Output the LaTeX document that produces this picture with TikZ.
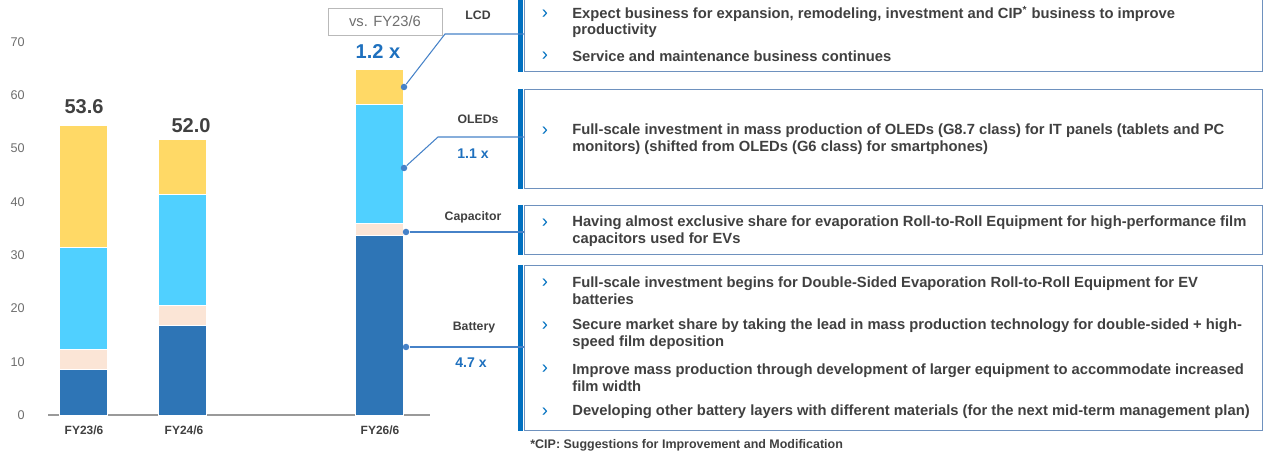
\documentclass[tikz,border=0pt]{standalone}
\usepackage{fontspec}
\setmainfont{Liberation Sans}
\definecolor{battblue}{RGB}{46,117,182}
\definecolor{capbeige}{RGB}{251,229,214}
\definecolor{oledcyan}{RGB}{80,208,255}
\definecolor{lcdyellow}{RGB}{255,217,102}
\definecolor{accentblue}{RGB}{0,112,192}
\definecolor{ratioblue}{RGB}{30,112,190}
\definecolor{linkblue}{RGB}{70,130,200}
\definecolor{framegray}{RGB}{110,145,190}
\definecolor{txtgray}{RGB}{64,64,64}
\definecolor{axisgray}{RGB}{110,110,110}
\begin{document}
\begin{tikzpicture}[x=0.02cm, y=-0.02cm,
    every node/.style={font=\fontsize{8.4}{9.6}\selectfont\bfseries, text=txtgray},
    axislabel/.style={font=\fontsize{7.2}{8}\selectfont, text=axisgray, anchor=east, inner sep=0},
    yearlabel/.style={font=\fontsize{6.8}{8}\selectfont\bfseries, inner sep=0},
    total/.style={font=\fontsize{11.4}{13}\selectfont\bfseries, inner sep=0},
    catlabel/.style={font=\fontsize{7}{8}\selectfont\bfseries, inner sep=0},
    ratio/.style={font=\fontsize{8}{9}\selectfont\bfseries, text=ratioblue, inner sep=0},
    dot/.style={circle, fill=linkblue, inner sep=0, minimum size=0.13cm},
    linkline/.style={draw=linkblue, line width=0.6pt},
    infobox/.style={draw=framegray, line width=0.5pt, anchor=north west, minimum width=14.76cm, inner sep=0},
    accentbar/.style={draw=accentblue, line width=2.3pt},
    itemtext/.style={anchor=west, align=left, inner sep=0},
    bulletmark/.style={font=\fontsize{10.5}{10}\selectfont, text=accentblue, inner sep=0}]
    \useasboundingbox (0,0) rectangle (1264,455);

    % Achse und Skala
    \draw[axisgray!70, line width=0.6pt] (48,415) -- (430,415);
    \foreach \v in {0,10,...,70}
        \node[axislabel] (tick\v) at (25,{415-5.33*\v}) {\v};

    % Gestapelte Balken (Batterie, Kondensator, OLED, LCD)
    \begin{scope}[shift={(0,415)}, y=0.1066cm]
        \foreach \xl/\vb/\vc/\vo/\vl in {59/8.6/12.4/31.5/54.4, 158/16.9/20.6/41.4/51.8, 355/33.8/36.0/58.3/64.9} {
            \filldraw[battblue, draw=white, line width=0.3pt] (\xl,0) rectangle (\xl+48,\vb);
            \filldraw[capbeige, draw=white, line width=0.3pt] (\xl,\vb) rectangle (\xl+48,\vc);
            \filldraw[oledcyan, draw=white, line width=0.3pt] (\xl,\vc) rectangle (\xl+48,\vo);
            \filldraw[lcdyellow, draw=white, line width=0.3pt] (\xl,\vo) rectangle (\xl+48,\vl);
        }
    \end{scope}

    % Jahre und Summen
    \node[yearlabel] (fy23) at (84,430) {FY23/6};
    \node[yearlabel] (fy24) at (184,430) {FY24/6};
    \node[yearlabel] (fy26) at (380,430) {FY26/6};
    \node[total] (tot23) at (84,107) {53.6};
    \node[total] (tot24) at (191,126) {52.0};

    % Vergleich zu FY23/6
    \node[draw=gray!55, line width=0.5pt, minimum width=2.28cm, minimum height=0.54cm, inner sep=0,
          font=\fontsize{8.4}{9}\selectfont, text=axisgray] (vsbox) at (385,21.5) {vs. FY23/6};
    \node[total, text=ratioblue] (ratiototal) at (378,52) {1.2 x};

    % Segmentbeschriftungen
    \node[catlabel] (labLCD) at (478,15) {LCD};
    \node[catlabel] (labOLED) at (478,119) {OLEDs};
    \node[ratio] (ratOLED) at (473,154) {1.1 x};
    \node[catlabel] (labCap) at (473,217) {Capacitor};
    \node[catlabel] (labBat) at (474,328) {Battery};
    \node[ratio] (ratBat) at (471,363) {4.7 x};

    % Punkte auf den Balken
    \node[dot] (dLCD) at (404,87) {};
    \node[dot] (dOLED) at (404,168) {};
    \node[dot] (dCap) at (406,232) {};
    \node[dot] (dBat) at (406,347) {};
    \coordinate (kLCD) at (445,34);
    \coordinate (kOLED) at (438,137);

    % Textkaesten
    \node[infobox, minimum height=1.46cm] (boxLCD) at (524,-2) {};
    \node[infobox, minimum height=1.98cm] (boxOLED) at (524,89) {};
    \node[infobox, minimum height=0.98cm] (boxCap) at (524,205) {};
    \node[infobox, minimum height=3.30cm] (boxBat) at (524,265) {};
    \foreach \b in {boxLCD,boxOLED,boxCap,boxBat}
        \draw[accentbar] ([xshift=-0.07cm]\b.north west) -- ([xshift=-0.07cm]\b.south west);

    % Verbindungen
    \draw[linkline] (dLCD) -- (kLCD) -- (kLCD -| boxLCD.west);
    \draw[linkline] (dOLED) -- (kOLED) -- (kOLED -| boxOLED.west);
    \draw[linkline] (dCap) -- (dCap -| boxCap.west);
    \draw[linkline] (dBat) -- (dBat -| boxBat.west);

    % Aufzaehlungen
    \foreach \y in {14,56,131,223,283,326,369,412}
        \node[bulletmark] (bul\y) at (545,\y) {›};
    \node[itemtext] (lcdA) at (572,22) {Expect business for expansion, remodeling, investment and CIP\textsuperscript{*} business to improve\\productivity};
    \node[itemtext] (lcdB) at (572,56) {Service and maintenance business continues};
    \node[itemtext] (oledA) at (572,139) {Full-scale investment in mass production of OLEDs (G8.7 class) for IT panels (tablets and PC\\monitors) (shifted from OLEDs (G6 class) for smartphones)};
    \node[itemtext] (capA) at (572,231.5) {Having almost exclusive share for evaporation Roll-to-Roll Equipment for high-performance film\\capacitors used for EVs};
    \node[itemtext] (batA) at (572,291) {Full-scale investment begins for Double-Sided Evaporation Roll-to-Roll Equipment for EV\\batteries};
    \node[itemtext] (batB) at (572,334.5) {Secure market share by taking the lead in mass production technology for double-sided + high-\\speed film deposition};
    \node[itemtext] (batC) at (572,377.5) {Improve mass production through development of larger equipment to accommodate increased\\film width};
    \node[itemtext] (batD) at (572,412) {Developing other battery layers with different materials (for the next mid-term management plan)};

    % Fussnote
    \node[anchor=west, inner sep=0, font=\fontsize{7.1}{8}\selectfont\bfseries] (note) at (530,445) {*CIP: Suggestions for Improvement and Modification};
\end{tikzpicture}
\end{document}
